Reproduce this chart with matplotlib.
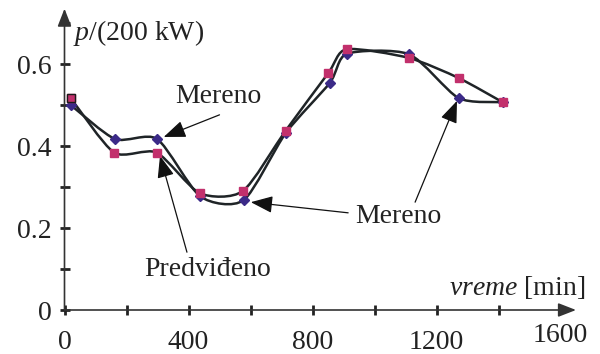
import matplotlib
matplotlib.use("Agg")
import matplotlib.pyplot as plt
from matplotlib.path import Path
from matplotlib.patches import PathPatch
import numpy as np

# ---- data ----
time_meas = [20, 163, 299, 438, 578, 714, 856, 911, 1111, 1271, 1414]
p_meas = [0.500, 0.417, 0.417, 0.277, 0.268, 0.432, 0.554, 0.625, 0.624, 0.517, 0.507]
time_pred = [20, 160, 297, 436, 575, 713, 851, 910, 1110, 1271, 1413]
p_pred = [0.517, 0.384, 0.384, 0.285, 0.290, 0.437, 0.578, 0.636, 0.615, 0.566, 0.507]
xtick_vals = [0, 200, 400, 600, 800, 1000, 1200, 1400]
xtick_labels = ["0", "", "400", "", "800", "", "1200", ""]
ytick_vals = [0, 0.1, 0.2, 0.3, 0.4, 0.5, 0.6, 0.7]
ytick_labels = ["0", "", "0.2", "", "0.4", "", "0.6", ""]

plt.rcParams['font.family'] = ['Liberation Serif', 'DejaVu Serif']
plt.rcParams['mathtext.fontset'] = 'custom'
plt.rcParams['mathtext.rm'] = 'Liberation Serif'
plt.rcParams['mathtext.it'] = 'Liberation Serif:italic'

FS = 20
LINE = '#1f2427'
TXT = '#222222'

fig = plt.figure(figsize=(6.0, 3.54), dpi=100)
W, H = 600, 354
x0px, y0px = 64.5, 310
sx, sy = 0.31, 410.0
xmax, ymax = 1650, 0.735
ax = fig.add_axes([x0px / W, (H - y0px) / H, xmax * sx / W, ymax * sy / H])
ax.set_xlim(0, xmax)
ax.set_ylim(0, ymax)


def smooth_path(x, y, t=0.12):
    x = np.asarray(x, float)
    y = np.asarray(y, float)
    pts = np.column_stack([x, y])
    n = len(pts)
    verts = [pts[0]]
    codes = [Path.MOVETO]
    for i in range(n - 1):
        p0 = pts[i - 1] if i > 0 else pts[i]
        p1 = pts[i]
        p2 = pts[i + 1]
        p3 = pts[i + 2] if i + 2 < n else pts[i + 1]
        c1 = p1 + (p2 - p0) * t
        c2 = p2 - (p3 - p1) * t
        verts += [c1, c2, p2]
        codes += [Path.CURVE4] * 3
    return Path(verts, codes)


for xs, ys in [(time_meas, p_meas), (time_pred, p_pred)]:
    ax.add_patch(PathPatch(smooth_path(xs, ys), fill=False, ec=LINE, lw=1.8,
                           zorder=2, capstyle='round', joinstyle='round'))

ax.plot(time_meas, p_meas, ls='none', marker='D', ms=5, color='#3b2a88',
        mec='#3b2a88', zorder=3, clip_on=False)
ax.plot(time_pred, p_pred, ls='none', marker='s', ms=5.5, color='#c2306c',
        mec='#c2306c', zorder=4, clip_on=False)
# first predicted point has dark outline
ax.plot(time_pred[:1], p_pred[:1], ls='none', marker='s', ms=6, color='#c2306c',
        mec='#1a1a1a', mew=1.0, zorder=5, clip_on=False)

# spines / axes with arrows
for s in ax.spines.values():
    s.set_visible(False)
axis_kw = dict(arrowstyle='-|>,head_length=0.9,head_width=0.35', color='#333333',
               lw=1.2, mutation_scale=12, shrinkA=0, shrinkB=0)
ax.annotate('', xy=(0, 1.0), xytext=(0, 0), xycoords='axes fraction',
            arrowprops=axis_kw, annotation_clip=False)
ax.annotate('', xy=(1.0, 0), xytext=(0, 0), xycoords='axes fraction',
            arrowprops=axis_kw, annotation_clip=False)

ax.set_xticks(xtick_vals)
ax.set_xticklabels(xtick_labels)
ax.set_yticks(ytick_vals)
ax.set_yticklabels(ytick_labels)
ax.tick_params(direction='inout', length=6.5, width=2.0, color=TXT,
               labelsize=FS, labelcolor=TXT)
ax.tick_params(axis='x', pad=11)
ax.tick_params(axis='y', pad=6)

# extra label 1600 at the arrow end
ax.text(1600, -0.062, "1600", ha='center', va='center', fontsize=FS,
        color=TXT, clip_on=False)

# axis titles
ax.text(27, 0.676, r"$\mathit{p}$/(200 kW)", ha='left', va='center', fontsize=FS,
        color=TXT, clip_on=False)
ax.text(1680, 0.056, r"$\mathit{vreme}$ [min]", ha='right', va='center', fontsize=FS,
        color=TXT, clip_on=False)

# annotations
arr = dict(arrowstyle='-|>,head_length=0.9,head_width=0.35', color='#111111',
           lw=0.9, mutation_scale=15, shrinkA=0, shrinkB=0)
ax.text(495, 0.52, "Mereno", ha='center', va='center', fontsize=FS, color=TXT)
ax.annotate('', xy=(320, 0.422), xytext=(500, 0.476), arrowprops=arr)

ax.text(463, 0.098, "Predviđeno", ha='center', va='center', fontsize=FS, color=TXT)
ax.annotate('', xy=(308, 0.376), xytext=(395, 0.141), arrowprops=arr)

ax.text(1076, 0.227, "Mereno", ha='center', va='center', fontsize=FS, color=TXT)
ax.annotate('', xy=(601, 0.263), xytext=(915, 0.237), arrowprops=arr)
ax.annotate('', xy=(1266, 0.51), xytext=(1131, 0.263), arrowprops=arr)

fig.savefig("out.png", dpi=100)
